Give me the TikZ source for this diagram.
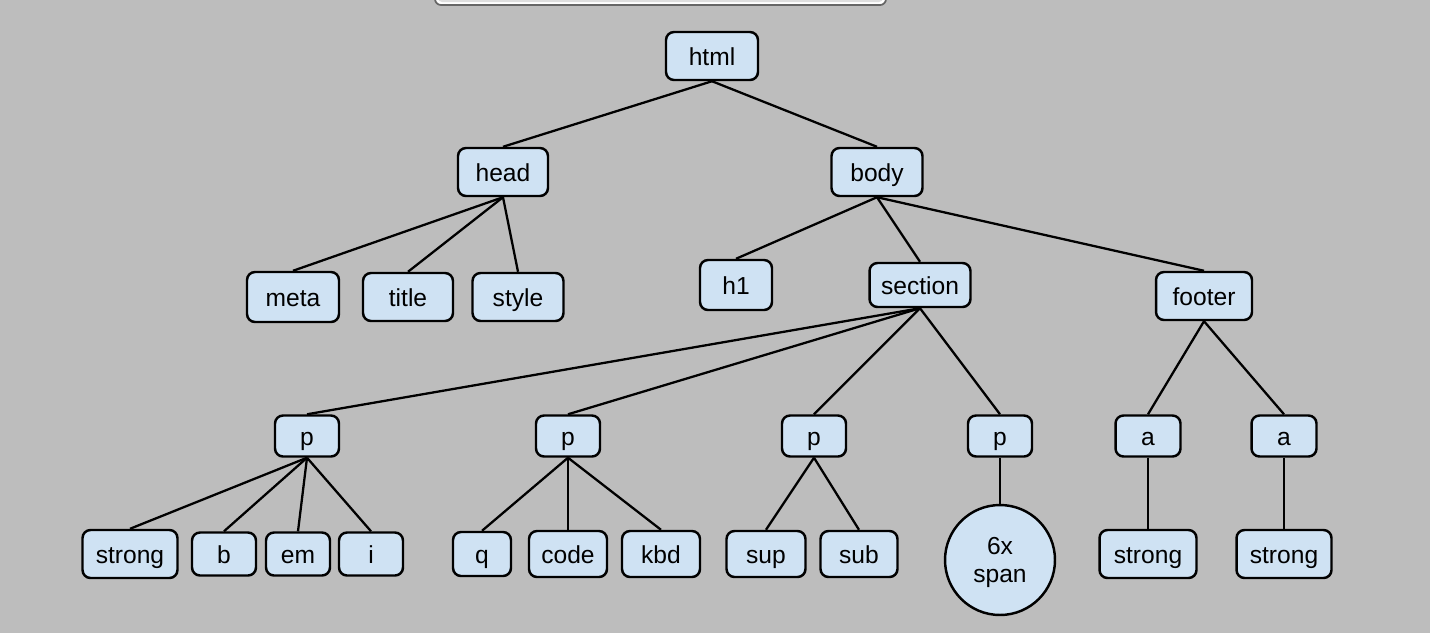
\documentclass[tikz,border=0pt]{standalone}
\usepackage{fontspec}
\setmainfont{Liberation Sans}
\usepackage{xcolor}
\usepackage{tikz}
\usetikzlibrary{shapes}

\definecolor{bgGray}{RGB}{189,189,189}
\definecolor{tagBlue}{RGB}{207,226,243}
\definecolor{barGray}{RGB}{222,222,222}

\begin{document}
\begin{tikzpicture}[x=0.02cm, y=-0.02cm,
        tag/.style={draw, rectangle, rounded corners=0.16cm, fill=tagBlue,
                line width=1.4pt, minimum height=0.96cm, inner sep=0pt,
                font=\fontsize{14}{16}\selectfont, text height=13pt, text depth=2pt},
        small/.style={minimum height=0.82cm},
        link/.style={line width=1.3pt}]

        \useasboundingbox (0,0) rectangle (1430,633);
        \fill[bgGray] (0,0) rectangle (1430,633);

        % bar cut off at the top edge
        \begin{scope}
            \clip (0,0) rectangle (1430,633);
            \draw[line width=1pt, draw=black!60, fill=white, rounded corners=0.12cm] (435,-20) rectangle (886,5);
            \fill[barGray, rounded corners=0.08cm] (438,-20) rectangle (883,2);
        \end{scope}

        % Root and first level
        \node[tag, minimum width=1.84cm] (html) at (712,56) {html};
        \node[tag, minimum width=1.8cm] (head) at (503,172) {head};
        \node[tag, minimum width=1.82cm] (body) at (877,172) {body};

        % children of head
        \node[tag, minimum width=1.84cm, minimum height=1cm] (meta) at (293,297) {meta};
        \node[tag, minimum width=1.8cm] (title) at (408,297) {title};
        \node[tag, minimum width=1.82cm] (style) at (518,297) {style};

        % children of body
        \node[tag, minimum width=1.44cm, minimum height=1cm] (h1) at (736,285) {h1};
        \node[tag, minimum width=2.02cm, minimum height=0.88cm] (section) at (920,285) {section};
        \node[tag, minimum width=1.92cm] (footer) at (1204,296) {footer};

        % paragraphs
        \node[tag, small, minimum width=1.28cm] (pOne) at (307,436) {p};
        \node[tag, small, minimum width=1.28cm] (pTwo) at (568,436) {p};
        \node[tag, small, minimum width=1.28cm] (pThree) at (814,436) {p};
        \node[tag, small, minimum width=1.28cm] (pFour) at (1000,436) {p};

        % links in footer
        \node[tag, small, minimum width=1.3cm] (aOne) at (1148,436) {a};
        \node[tag, small, minimum width=1.3cm] (aTwo) at (1284,436) {a};

        % leaves
        \node[tag, minimum width=1.9cm] (strongOne) at (130,554) {strong};
        \node[tag, minimum width=1.28cm, minimum height=0.86cm] (b) at (224,554) {b};
        \node[tag, minimum width=1.28cm, minimum height=0.86cm] (em) at (298,554) {em};
        \node[tag, minimum width=1.28cm, minimum height=0.86cm] (i) at (371,554) {i};

        \node[tag, minimum width=1.16cm, minimum height=0.88cm] (q) at (482,554) {q};
        \node[tag, minimum width=1.56cm, minimum height=0.92cm] (code) at (568,554) {code};
        \node[tag, minimum width=1.56cm, minimum height=0.92cm] (kbd) at (661,554) {kbd};

        \node[tag, minimum width=1.58cm, minimum height=0.92cm] (sup) at (766,554) {sup};
        \node[tag, minimum width=1.54cm, minimum height=0.92cm] (sub) at (859,554) {sub};

        \node[draw, circle, fill=tagBlue, line width=1.4pt, minimum size=2.2cm,
              inner sep=0pt, align=center, font=\fontsize{14}{16}\selectfont] (span) at (1000,560) {\rule{0pt}{13pt}6x\\span};

        \node[tag, minimum width=1.94cm] (strongTwo) at (1148,554) {strong};
        \node[tag, minimum width=1.9cm] (strongThree) at (1284,554) {strong};

        % connectors
        \foreach \parent/\child in {html/head, html/body,
                head/meta, head/title, head/style,
                body/h1, body/section, body/footer,
                section/pOne, section/pTwo, section/pThree, section/pFour,
                footer/aOne, footer/aTwo,
                pOne/strongOne, pOne/b, pOne/em, pOne/i,
                pTwo/q, pTwo/code, pTwo/kbd,
                pThree/sup, pThree/sub, pFour/span,
                aOne/strongTwo, aTwo/strongThree} {
            \draw[link] (\parent.south) -- (\child.north);
        }

\end{tikzpicture}
\end{document}
